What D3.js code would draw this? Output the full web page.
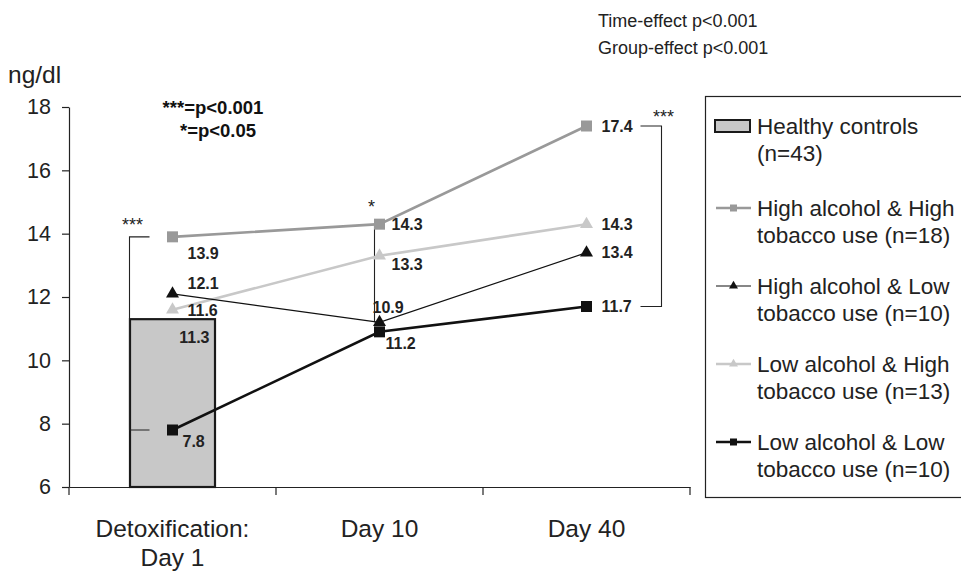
<!DOCTYPE html>
<html><head><meta charset="utf-8">
<script src="https://cdn.jsdelivr.net/npm/d3@7/dist/d3.min.js"></script>
<style>
body{margin:0;background:#fff;}
svg{display:block;font-family:"Liberation Sans",Arial,sans-serif;}
</style></head>
<body>
<svg id="chart" width="961" height="571"></svg>
<script>
// ---- data ----
const categories = ["Detoxification:|Day 1", "Day 10", "Day 40"];
const yTicks = [6, 8, 10, 12, 14, 16, 18];
const controlValue = 11.3;               // Healthy controls, Day 1 only
const highAlcHighTob = [13.9, 14.3, 17.4];
const highAlcLowTob  = [12.1, 11.2, 13.4];
const lowAlcHighTob  = [11.6, 13.3, 14.3];
const lowAlcLowTob   = [7.8, 10.9, 11.7];
const highAlcLowTobLabels = ["12.1", "10.9", "13.4"];
const lowAlcLowTobLabels  = ["7.8", "11.2", "11.7"];
const legendLabels = [
  ["Healthy controls", "(n=43)"],
  ["High alcohol & High", "tobacco use (n=18)"],
  ["High alcohol & Low", "tobacco use (n=10)"],
  ["Low alcohol & High", "tobacco use (n=13)"],
  ["Low alcohol & Low", "tobacco use (n=10)"]
];
const yUnit = "ng/dl";
const effectNotes = ["Time-effect p<0.001", "Group-effect p<0.001"];
const sigNotes = ["***=p<0.001", "*=p<0.05"];

// ---- chart ----
const svg = d3.select("#chart");
const FONT = '"Liberation Sans",Arial,sans-serif';
const x = d3.scaleBand().domain(categories).range([69, 690]).padding(0);
const y = d3.scaleLinear().domain([6, 18]).range([487, 107]);
const cx = i => x(categories[i]) + x.bandwidth() / 2;

// y axis
const yAxis = svg.append("g").attr("transform", "translate(69,0)")
  .call(d3.axisLeft(y).tickValues(yTicks).tickSize(7).tickSizeOuter(0).tickPadding(11));
yAxis.select(".domain").attr("stroke", "#222").attr("stroke-width", 1.2);
yAxis.selectAll(".tick line").attr("stroke", "#222").attr("stroke-width", 1.2);
yAxis.selectAll(".tick text").attr("font-family", FONT).attr("font-size", 21.5).attr("fill", "#222");

// x axis (boundary ticks)
const xAxis = svg.append("g").attr("transform", "translate(0,487)")
  .call(d3.axisBottom(x).tickSize(0).tickSizeOuter(0).tickFormat(""));
xAxis.select(".domain").attr("stroke", "#222").attr("stroke-width", 1.2);
const bounds = categories.map(c => x(c)).concat([x.range()[1]]);
xAxis.selectAll(".bound").data(bounds).join("line")
  .attr("x1", d => d).attr("x2", d => d).attr("y1", 0).attr("y2", 8)
  .attr("stroke", "#222").attr("stroke-width", 1.2);
categories.forEach((c, i) => {
  const t = svg.append("text").attr("x", cx(i)).attr("text-anchor", "middle")
    .attr("font-family", FONT).attr("font-size", 24.5).attr("fill", "#222");
  c.split("|").forEach((line, j) => {
    t.append("tspan").attr("x", cx(i)).attr("y", 537 + j * 29).text(line);
  });
});

// y unit
svg.append("text").attr("x", 8).attr("y", 83).attr("font-family", FONT)
  .attr("font-size", 24.5).attr("fill", "#222").text(yUnit);

// Healthy controls bar
const barW = 85;
svg.append("rect").attr("x", cx(0) - barW / 2).attr("y", y(controlValue))
  .attr("width", barW).attr("height", y(6) - y(controlValue))
  .attr("fill", "#c8c8c8").attr("stroke", "#1a1a1a").attr("stroke-width", 2.2);
svg.append("text").attr("x", cx(0) + 37).attr("y", y(controlValue) + 24)
  .attr("text-anchor", "end").attr("font-family", FONT).attr("font-weight", "bold")
  .attr("font-size", 16).attr("fill", "#222").text(controlValue.toFixed(1));

// significance brackets
function bracket(xv, y1, y2, tickDir, tickLen) {
  const p = d3.path();
  p.moveTo(xv + tickDir * tickLen, y1); p.lineTo(xv, y1); p.lineTo(xv, y2); p.lineTo(xv + tickDir * tickLen, y2);
  svg.append("path").attr("d", p.toString()).attr("fill", "none").attr("stroke", "#222").attr("stroke-width", 1.1);
}
bracket(cx(0) - 43, y(highAlcHighTob[0]), y(lowAlcLowTob[0]), 1, 20);
svg.append("line").attr("x1", cx(1) - 5).attr("x2", cx(1) - 5)
  .attr("y1", y(highAlcHighTob[1])).attr("y2", y(highAlcLowTob[1]))
  .attr("stroke", "#222").attr("stroke-width", 1.1);
bracket(cx(2) + 75, y(highAlcHighTob[2]), y(lowAlcLowTob[2]), -1, 21);
function stars(xv, yv, s) {
  svg.append("text").attr("x", xv).attr("y", yv).attr("text-anchor", "middle")
    .attr("font-family", FONT).attr("font-size", 18).attr("fill", "#222").text(s);
}
stars(cx(0) - 40, y(highAlcHighTob[0]) - 6, "***");
stars(cx(1) - 8, y(highAlcHighTob[1]) - 11, "*");
stars(cx(2) + 77, y(highAlcHighTob[2]) - 3, "***");

// series
const series = [
  {vals: lowAlcHighTob, color: "#c8c8c8", width: 2.6, shape: "tri", mcolor: "#c8c8c8"},
  {vals: highAlcHighTob, color: "#999999", width: 2.6, shape: "sq", mcolor: "#999999"},
  {vals: highAlcLowTob, color: "#111111", width: 1.2, shape: "tri", mcolor: "#111111"},
  {vals: lowAlcLowTob, color: "#111111", width: 2.6, shape: "sq", mcolor: "#111111"}
];
const line = d3.line().x((d, i) => cx(i)).y(d => y(d));
series.forEach(s => {
  svg.append("path").datum(s.vals).attr("d", line).attr("fill", "none")
    .attr("stroke", s.color).attr("stroke-width", s.width);
});
function marker(g, xv, yv, shape, color, size) {
  if (shape === "sq") {
    g.append("rect").attr("x", xv - size / 2).attr("y", yv - size / 2)
      .attr("width", size).attr("height", size).attr("fill", color);
  } else {
    const area = Math.sqrt(3) / 4 * size * size;
    const sym = d3.symbol().type(d3.symbolTriangle).size(area);
    g.append("path").attr("d", sym()).attr("transform", `translate(${xv},${yv})`).attr("fill", color);
  }
}
series.forEach(s => {
  s.vals.forEach((v, i) => marker(svg, cx(i), y(v), s.shape, s.mcolor, s.shape === "sq" ? 11 : 13));
});

// data labels
function lab(xv, yv, txt) {
  svg.append("text").attr("x", xv).attr("y", yv).attr("dy", "0.36em")
    .attr("font-family", FONT).attr("font-weight", "bold").attr("font-size", 16)
    .attr("fill", "#222").text(txt);
}
// Day 1
lab(cx(0) + 15, y(highAlcHighTob[0]) + 16, highAlcHighTob[0].toFixed(1));
lab(cx(0) + 15, y(highAlcLowTob[0]) - 11, highAlcLowTobLabels[0]);
lab(cx(0) + 15, y(lowAlcHighTob[0]) + 1, lowAlcHighTob[0].toFixed(1));
lab(cx(0) + 10, y(lowAlcLowTob[0]) + 11, lowAlcLowTobLabels[0]);
// Day 10
lab(cx(1) + 12, y(highAlcHighTob[1]), highAlcHighTob[1].toFixed(1));
lab(cx(1) + 12, y(lowAlcHighTob[1]) + 8, lowAlcHighTob[1].toFixed(1));
lab(cx(1) - 7, y(highAlcLowTob[1]) - 15, highAlcLowTobLabels[1]);
lab(cx(1) + 6, y(lowAlcLowTob[1]) + 11, lowAlcLowTobLabels[1]);
// Day 40
lab(cx(2) + 15, y(highAlcHighTob[2]), highAlcHighTob[2].toFixed(1));
lab(cx(2) + 15, y(lowAlcHighTob[2]), lowAlcHighTob[2].toFixed(1));
lab(cx(2) + 15, y(highAlcLowTob[2]), highAlcLowTobLabels[2]);
lab(cx(2) + 15, y(lowAlcLowTob[2]), lowAlcLowTobLabels[2]);

// significance notes
sigNotes.forEach((t, i) => {
  svg.append("text").attr("x", i === 0 ? 213 : 218).attr("y", 114 + i * 23).attr("text-anchor", "middle")
    .attr("font-family", FONT).attr("font-weight", "bold").attr("font-size", 18.5).attr("fill", "#111").text(t);
});

// effect notes
effectNotes.forEach((t, i) => {
  svg.append("text").attr("x", 598).attr("y", 27 + i * 27)
    .attr("font-family", FONT).attr("font-size", 18).attr("fill", "#222").text(t);
});

// legend
const lg = svg.append("g");
lg.append("rect").attr("x", 705.5).attr("y", 96.5).attr("width", 300).attr("height", 401)
  .attr("fill", "none").attr("stroke", "#222").attr("stroke-width", 1.2);
const itemY = [126, 208, 286, 364, 442];
const legendSeries = [null, series[1], series[2], series[0], series[3]];
legendLabels.forEach((lines, i) => {
  const yy = itemY[i];
  if (i === 0) {
    lg.append("rect").attr("x", 715).attr("y", yy - 6).attr("width", 35).attr("height", 12)
      .attr("fill", "#c8c8c8").attr("stroke", "#1a1a1a").attr("stroke-width", 2);
  } else {
    const s = legendSeries[i];
    lg.append("line").attr("x1", 716).attr("x2", 751).attr("y1", yy).attr("y2", yy)
      .attr("stroke", s.color).attr("stroke-width", s.width === 1.2 ? 1.2 : 2.4);
    marker(lg, 733.5, yy, s.shape, s.mcolor, s.shape === "sq" ? 7 : 9);
  }
  lines.forEach((t, j) => {
    lg.append("text").attr("x", 757).attr("y", yy + j * 27).attr("dy", "0.36em")
      .attr("font-family", FONT).attr("font-size", 22.5).attr("fill", "#222").text(t);
  });
});
</script>
</body></html>
